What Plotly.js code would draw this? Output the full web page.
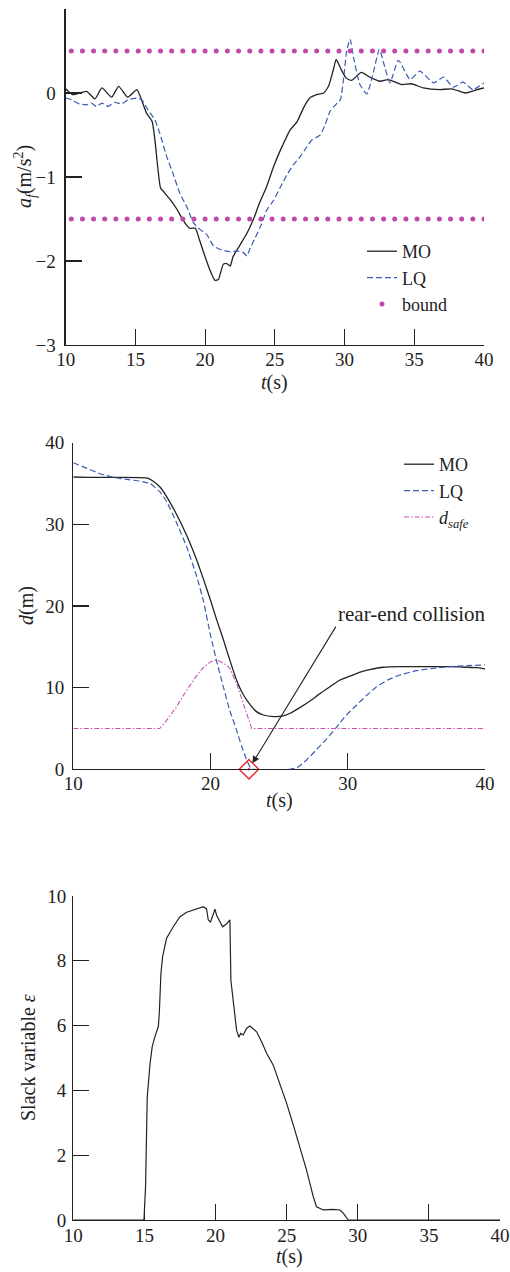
<!DOCTYPE html>
<html>
<head>
<meta charset="utf-8">
<script src="https://cdn.plot.ly/plotly-3.0.1.min.js"></script>
<style>html,body{margin:0;padding:0;background:#fff;}#chart{width:510px;height:1272px;}</style>
</head>
<body>
<div id="chart"></div>
<script>
// ---- Panel 1: acceleration a_f (m/s^2) ----
const moT1 = [10,10.5,11.5,12.1,12.6,13.3,13.8,14.45,15.1,15.3,15.8,16.2,16.4,16.6,16.8,17.0,17.5,18.0,18.4,18.9,19.3,19.6,20.0,20.35,20.7,20.95,21.3,21.55,21.8,22.0,22.5,23.0,23.45,23.9,24.4,24.9,25.4,25.85,26.1,26.6,27.05,27.5,28.0,28.5,28.85,29.2,29.4,29.7,30.1,30.5,31.2,31.8,32.55,33.14,34.1,34.8,35.65,36.85,37.7,38.65,39.5,40.0];
const moA  = [0.05,-0.02,0.02,-0.07,0.06,-0.05,0.08,-0.05,0.04,-0.02,-0.24,-0.34,-0.56,-0.88,-1.13,-1.17,-1.27,-1.39,-1.51,-1.61,-1.61,-1.75,-1.95,-2.11,-2.23,-2.22,-2.04,-2.03,-2.06,-1.95,-1.81,-1.67,-1.51,-1.31,-1.12,-0.88,-0.68,-0.52,-0.44,-0.34,-0.18,-0.06,-0.02,0.0,0.08,0.28,0.40,0.30,0.18,0.15,0.245,0.19,0.14,0.16,0.10,0.11,0.06,0.04,0.05,0.0,0.04,0.06];
const lqT1 = [10,10.4,11.0,11.5,11.85,12.2,12.6,13.05,13.5,14.0,14.5,15.1,15.45,15.9,16.4,16.75,17.25,17.7,18.2,18.7,19.15,19.6,20.1,20.6,21.05,21.8,22.25,22.75,23.0,23.2,23.6,24.05,24.4,24.9,25.4,25.85,26.3,26.8,27.3,27.65,28.25,28.6,28.95,29.3,29.7,29.95,30.15,30.4,30.65,31.1,31.6,32.0,32.5,32.9,33.26,33.86,34.7,35.4,36.4,37.1,37.8,38.5,39.2,40];
const lqA  = [-0.06,-0.08,-0.13,-0.14,-0.12,-0.16,-0.12,-0.16,-0.11,-0.13,-0.08,-0.06,-0.08,-0.2,-0.32,-0.48,-0.76,-0.96,-1.2,-1.36,-1.54,-1.62,-1.68,-1.82,-1.86,-1.89,-1.88,-1.9,-1.94,-1.86,-1.72,-1.56,-1.4,-1.28,-1.12,-0.98,-0.86,-0.76,-0.64,-0.56,-0.5,-0.38,-0.22,-0.15,-0.08,0.2,0.5,0.64,0.42,0.1,-0.01,0.2,0.52,0.3,0.12,0.39,0.16,0.26,0.12,0.19,0.07,0.13,0.04,0.12];
const boundT = [10.4,11.2,12.0,12.8,13.6,14.4,15.2,16.0,16.8,17.6,18.4,19.2,20.0,20.8,21.6,22.4,23.2,24.0,24.8,25.6,26.4,27.2,28.0,28.8,29.6,30.4,31.2,32.0,32.8,33.6,34.4,35.2,36.0,36.8,37.6,38.4,39.2,40.0];
const boundLevels = [0.5, -1.5];

// ---- Panel 2: distance d (m) ----
const moT2 = [10,11,15.35,15.8,16.3,16.8,17.5,18.25,19.0,19.5,20.0,20.45,20.95,21.4,21.9,22.4,22.9,23.35,23.85,24.6,25.2,25.8,26.5,27.25,28.0,28.7,29.4,30.15,30.9,31.6,32.6,33.8,36.2,37.4,38.7,39.4,40];
const moD  = [35.8,35.75,35.7,35.3,34.6,33.4,31.3,28.7,25.6,23.2,20.7,18.3,15.8,13.4,10.9,9.1,7.9,7.06,6.65,6.45,6.5,6.86,7.55,8.37,9.3,10.1,10.9,11.4,11.9,12.2,12.5,12.57,12.57,12.57,12.5,12.45,12.3];
const lqT2 = [10,11,11.95,12.9,13.9,14.85,15.6,16.3,16.8,17.5,18.25,19.0,19.5,20.0,20.45,20.95,21.4,21.9,22.25,22.6,22.9,23.1,25.8,26.3,27.0,27.7,28.5,29.2,29.9,30.65,31.4,32.1,32.85,33.8,35.0,36.2,37.45,38.7,40];
const lqD  = [37.55,36.86,36.2,35.76,35.5,35.3,35.0,34.0,32.8,30.3,27.3,23.6,20.5,16.4,13.2,10.0,7.2,4.8,2.9,1.3,0.2,0,0,0.2,1.14,2.37,3.8,5.2,6.65,7.88,9.1,10.1,10.9,11.55,12.08,12.37,12.57,12.7,12.78];
const dsT  = [10,16.3,16.8,17.5,18.0,18.6,19.0,19.5,20.0,20.3,20.6,20.95,21.4,21.9,22.4,22.75,23.0,40];
const dsD  = [5,5,6.0,7.6,9.0,10.6,11.5,12.5,13.15,13.35,13.3,13.0,12.4,10.5,8.1,6.25,5,5];
const collisionT = [22.8];
const collisionD = [0];
const collisionLabel = "rear-end collision";

// ---- Panel 3: slack variable ----
const slT = [10,14.97,15.08,15.2,15.4,15.55,15.74,15.98,16.05,16.16,16.28,16.56,17.03,17.5,17.97,18.67,19.14,19.37,19.49,19.65,19.96,20.08,20.5,20.78,21.01,21.08,21.25,21.48,21.64,21.77,21.95,22.19,22.42,22.89,23.24,23.6,24.06,24.53,25.0,25.47,25.94,26.4,26.87,27.1,27.58,28.28,28.75,28.98,29.33,40];
const slE = [0,0,1.03,3.8,4.84,5.35,5.66,5.97,6.4,7.6,8.13,8.7,9.05,9.36,9.5,9.6,9.67,9.6,9.26,9.2,9.59,9.4,9.05,9.14,9.26,7.4,6.69,5.86,5.64,5.76,5.71,5.92,5.99,5.81,5.5,5.14,4.78,4.22,3.6,2.93,2.26,1.54,0.72,0.41,0.31,0.33,0.31,0.21,0,0];

const FONT = "Liberation Serif, Times New Roman, serif";
const INK = "#222222";
const BLUE = "#3a5cb8";
const MAG = "#c048a8";
const MAG2 = "#c850b4";
const TICK = 19, TITLE = 20, LEG = 18;

const boundX = [], boundY = [];
boundLevels.forEach(lv => { boundT.forEach(t => { boundX.push(t); boundY.push(lv); }); });

const traces = [
  {x: moT1, y: moA, xaxis:'x', yaxis:'y', mode:'lines', name:'MO', legend:'legend',
   line:{color:INK, width:1.3, shape:'spline', smoothing:0.5}},
  {x: lqT1, y: lqA, xaxis:'x', yaxis:'y', mode:'lines', name:'LQ', legend:'legend',
   line:{color:BLUE, width:1.2, dash:'6px,3px', shape:'spline', smoothing:0.5}},
  {x: boundX, y: boundY, xaxis:'x', yaxis:'y', mode:'markers', name:'bound', legend:'legend',
   marker:{color:MAG, size:5}},

  {x: moT2, y: moD, xaxis:'x2', yaxis:'y2', mode:'lines', name:'MO', legend:'legend2',
   line:{color:INK, width:1.3, shape:'spline', smoothing:0.4}},
  {x: lqT2, y: lqD, xaxis:'x2', yaxis:'y2', mode:'lines', name:'LQ', legend:'legend2',
   line:{color:BLUE, width:1.2, dash:'6px,3px', shape:'spline', smoothing:0.4}},
  {x: dsT, y: dsD, xaxis:'x2', yaxis:'y2', mode:'lines', name:'<i>d</i><sub><i>safe</i></sub>', legend:'legend2',
   line:{color:MAG2, width:1.1, dash:'5px,2px,1.5px,2px'}},
  {x: collisionT, y: collisionD, xaxis:'x2', yaxis:'y2', mode:'markers', showlegend:false, cliponaxis:false,
   marker:{symbol:'diamond-open-dot', size:15, color:'#ee2222', line:{width:1.4, color:'#ee2222'}}},

  {x: slT, y: slE, xaxis:'x3', yaxis:'y3', mode:'lines', showlegend:false,
   line:{color:INK, width:1.2}}
];

function xa(domain, dtick, anchor, tls) {
  return {domain: domain, range:[10,40], dtick: dtick, tick0: 10, anchor: anchor,
    showline:true, linecolor:INK, linewidth:1.2, mirror:false,
    ticks:'inside', ticklen:16, tickwidth:1.2, tickcolor:INK,
    showgrid:false, zeroline:false, ticklabelstandoff:tls,
    tickfont:{family:FONT, size:TICK, color:INK}};
}
function ya(domain, range, dtick, anchor, tls) {
  return {domain: domain, range: range, dtick: dtick, anchor: anchor,
    showline:true, linecolor:INK, linewidth:1.2, mirror:false,
    ticks:'inside', ticklen:16, tickwidth:1.2, tickcolor:INK,
    showgrid:false, zeroline:false, ticklabelstandoff:tls,
    tickfont:{family:FONT, size:TICK, color:INK}};
}
function xTitle(xc, ypx) {
  return {xref:'paper', yref:'paper', x:xc/510, y:1-ypx/1272, xanchor:'center', yanchor:'middle',
    text:'<i>t</i>(s)', showarrow:false, font:{family:FONT, size:TITLE, color:INK}};
}
function yTitle(text, xpx, ypx) {
  return {xref:'paper', yref:'paper', x:xpx/510, y:1-ypx/1272, xanchor:'center', yanchor:'middle',
    textangle:-90, text:text, showarrow:false, font:{family:FONT, size:TITLE, color:INK}};
}

const layout = {
  width:510, height:1272,
  margin:{l:0, r:0, t:0, b:0},
  paper_bgcolor:'#ffffff', plot_bgcolor:'rgba(0,0,0,0)',
  font:{family:FONT, size:18, color:INK},
  xaxis:  xa([0.1288, 0.949], 5, 'y', -3),
  yaxis:  ya([0.72877, 0.99292], [-3,1], 1, 'x', 5),
  xaxis2: xa([0.1437, 0.951], 10, 'y2', -3),
  yaxis2: ya([0.39521, 0.65197], [0,40], 10, 'x2', 4),
  xaxis3: xa([0.1437, 0.9804], 5, 'y3', -2),
  yaxis3: ya([0.04088, 0.29560], [0,10], 2, 'x3', 2),
  legend:  {x:362/510, xanchor:'left', y:1-233/1272, yanchor:'top', bgcolor:'rgba(0,0,0,0)',
            font:{family:FONT, size:LEG, color:INK}, tracegroupgap:0},
  legend2: {x:399/510, xanchor:'left', y:1-446/1272, yanchor:'top', bgcolor:'rgba(0,0,0,0)',
            font:{family:FONT, size:LEG, color:INK}, tracegroupgap:0},
  annotations: [
    xTitle(274.9, 383), xTitle(279, 800), xTitle(289, 1256),
    yTitle('<i>a</i><sub><i>f</i></sub>(m/s<sup>2</sup>)', 25, 177),
    yTitle('<i>d</i>(m)', 27, 606),
    yTitle('Slack variable <i>ε</i>', 28, 1058),
    {xref:'x2', yref:'y2', x:34.69, y:19.0, text:collisionLabel, showarrow:false,
     font:{family:FONT, size:21, color:INK}},
    {xref:'x2', yref:'y2', axref:'x2', ayref:'y2', x:23.05, y:0.73, ax:29.2, ay:17.66,
     text:'', showarrow:true, arrowhead:2, arrowsize:1.3, arrowwidth:1.1, arrowcolor:INK}
  ],
  showlegend:true
};

Plotly.newPlot('chart', traces, layout, {displayModeBar:false, staticPlot:true});
</script>
</body>
</html>
